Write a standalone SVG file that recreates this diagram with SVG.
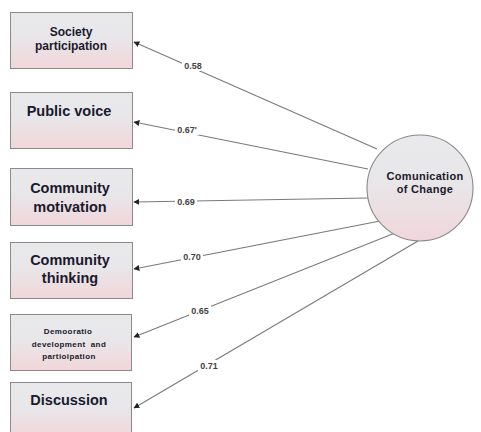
<svg xmlns="http://www.w3.org/2000/svg" width="481" height="432" viewBox="0 0 481 432">
<defs>
<linearGradient id="g" x1="0" y1="0" x2="0" y2="1">
<stop offset="0" stop-color="#e9e9ec"/>
<stop offset="0.45" stop-color="#e8e6e9"/>
<stop offset="1" stop-color="#f1d6da"/>
</linearGradient>
<marker id="ah" viewBox="0 0 10 10" refX="9" refY="5" markerWidth="6" markerHeight="6" orient="auto-start-reverse" markerUnits="userSpaceOnUse">
<path d="M0,0 L10,5 L0,10 z" fill="#222"/>
</marker>
<style>
.box{fill:url(#g);stroke:#8a8a8a;stroke-width:1}
.t{font-family:"Liberation Sans",Arial,sans-serif;font-weight:bold;fill:#1a1a2e;text-anchor:middle}
.big{font-size:14.5px}
.mid{font-size:12px}
.cir{font-size:11px;letter-spacing:0.3px}
.sm{font-size:8px;letter-spacing:0.4px}
.c{stroke:#7a7a7a;stroke-width:1.1;fill:none;marker-end:url(#ah)}
.lb{font-family:"Liberation Sans",Arial,sans-serif;font-weight:bold;font-size:9px;fill:#444;text-anchor:middle}
.lbg{fill:#fff}
</style>
</defs>
<rect width="481" height="432" fill="#fff"/>
<g id="connectors">
<line class="c" x1="377" y1="149" x2="134" y2="42"/>
<line class="c" x1="368" y1="169" x2="134" y2="122"/>
<line class="c" x1="368" y1="198" x2="134" y2="202"/>
<line class="c" x1="380" y1="221" x2="134" y2="269"/>
<line class="c" x1="395" y1="233" x2="134" y2="337"/>
<line class="c" x1="418" y1="241" x2="134" y2="408"/>
<rect class="lbg" x="182" y="60" width="22" height="11"/>
<text class="lb" x="193" y="69">0.58</text>
<rect class="lbg" x="175" y="124" width="24" height="11"/>
<text class="lb" x="187" y="133">0.67'</text>
<rect class="lbg" x="175" y="196" width="22" height="11"/>
<text class="lb" x="186" y="205">0.69</text>
<rect class="lbg" x="181" y="251" width="22" height="11"/>
<text class="lb" x="192" y="260">0.70</text>
<rect class="lbg" x="189" y="305" width="22" height="11"/>
<text class="lb" x="200" y="314">0.65</text>
<rect class="lbg" x="198" y="360" width="22" height="11"/>
<text class="lb" x="209" y="369">0.71</text>
</g>
<g id="society">
<rect class="box" x="10.5" y="12.5" width="122" height="56"/>
<text class="t mid" x="71" y="36">Society</text>
<text class="t mid" x="71" y="50">participation</text>
</g>
<g id="public">
<rect class="box" x="10.5" y="92.5" width="122" height="56"/>
<text class="t big" x="69" y="116">Public voice</text>
</g>
<g id="motivation">
<rect class="box" x="10.5" y="168.5" width="122" height="57"/>
<text class="t big" x="70" y="193">Community</text>
<text class="t big" x="70" y="212">motivation</text>
</g>
<g id="thinking">
<rect class="box" x="10.5" y="242.5" width="122" height="56"/>
<text class="t big" x="70" y="265">Community</text>
<text class="t big" x="70" y="283">thinking</text>
</g>
<g id="democratic">
<rect class="box" x="10.5" y="314.5" width="121" height="56"/>
<text class="t sm" x="68" y="334">Demooratio</text>
<text class="t sm" x="69" y="347" xml:space="preserve">development  and</text>
<text class="t sm" x="69" y="359">partioipation</text>
</g>
<g id="discussion">
<rect class="box" x="10.5" y="382.5" width="121" height="56"/>
<text class="t big" x="69" y="405">Discussion</text>
</g>
<g id="change">
<circle cx="420" cy="188" r="53" fill="url(#g)" stroke="#8a8a8a" stroke-width="1.1"/>
<text class="t cir" x="425" y="180">Comunication</text>
<text class="t cir" x="425" y="193">of Change</text>
</g>
</svg>
